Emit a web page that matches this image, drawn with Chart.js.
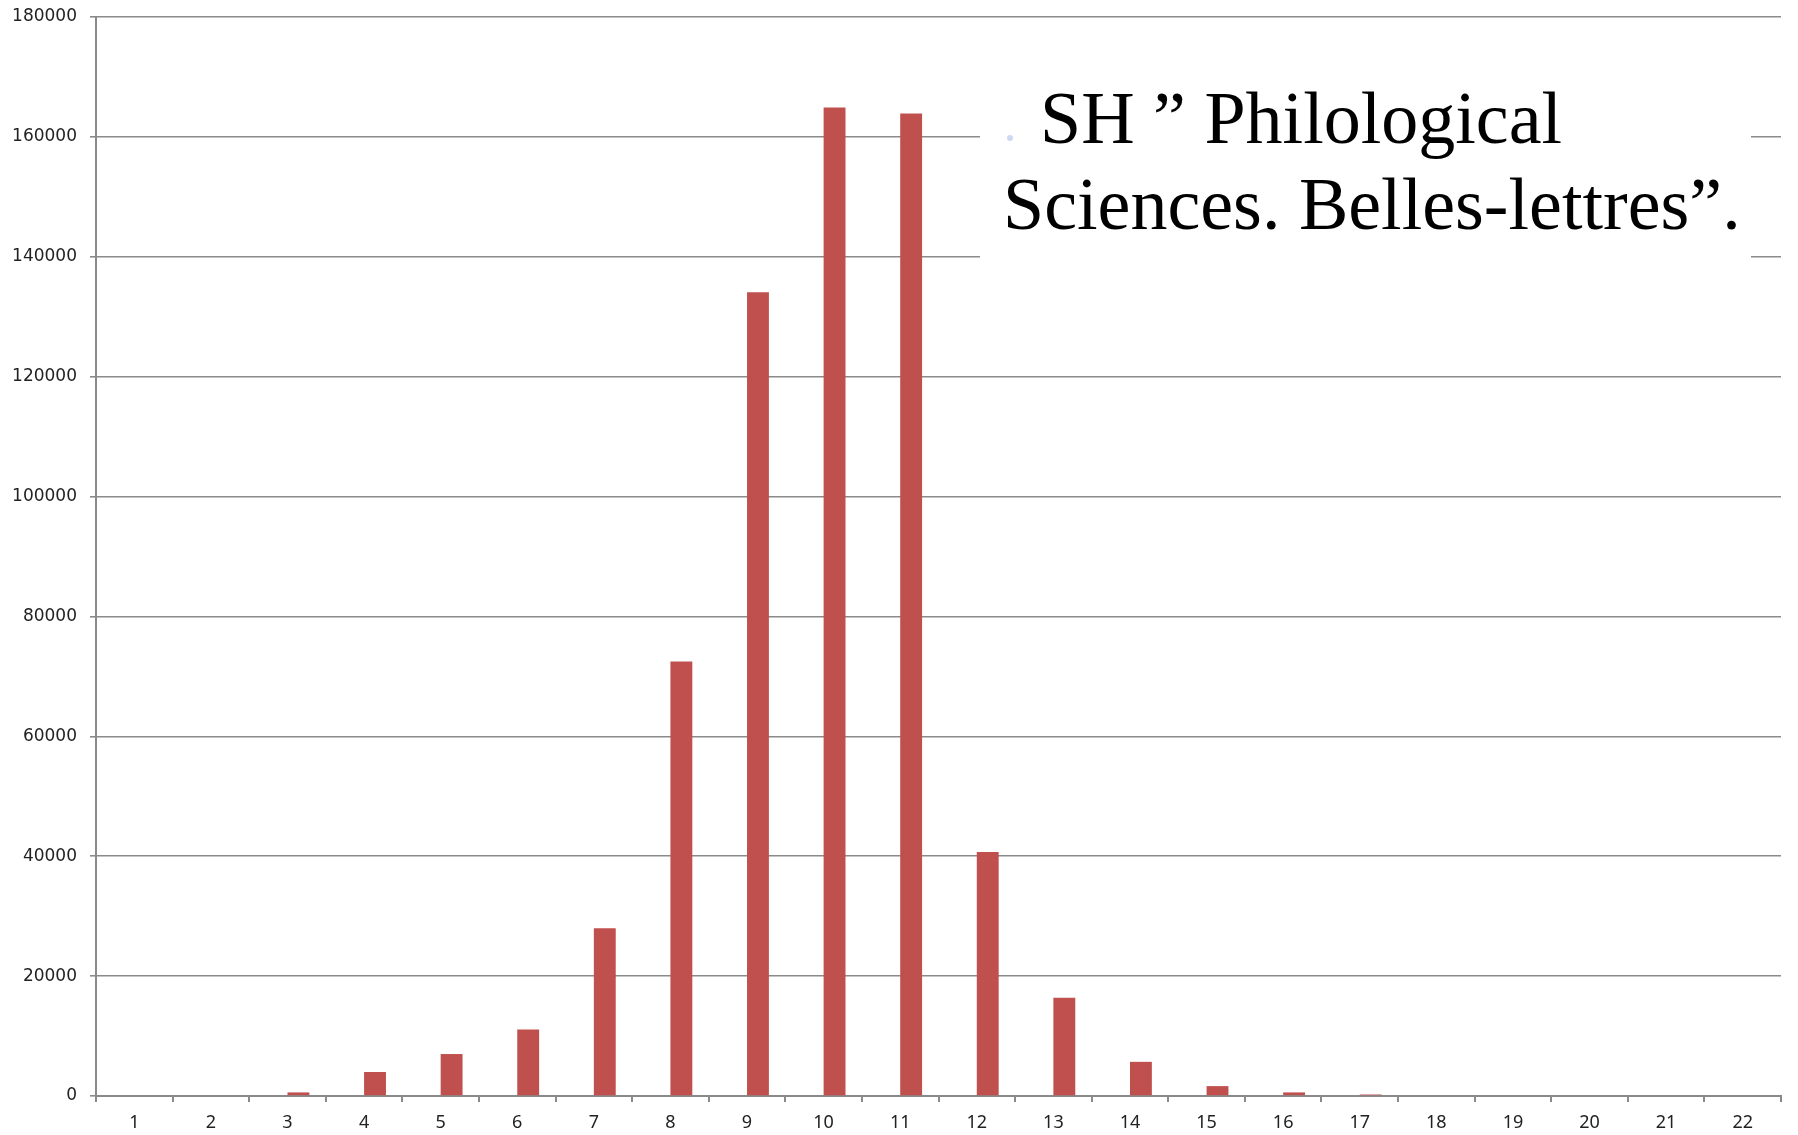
<!DOCTYPE html>
<html>
<head>
<meta charset="utf-8">
<script src="https://cdn.jsdelivr.net/npm/chart.js@4/dist/chart.umd.min.js"></script>
<style>
  html, body { margin: 0; padding: 0; background: #fff; }
  #wrap { position: relative; width: 1798px; height: 1135px; }
  #note {
    position: absolute; left: 980px; top: 75px; width: 771px; height: 190px;
    background: #fff; font-family: "Liberation Serif", "Times New Roman", serif;
    font-size: 74px; line-height: 86px; color: #000; white-space: nowrap;
  }
  #note .l1 { position: absolute; left: 60px; top: 0; }
  #note .l2 { position: absolute; left: 23px; top: 86px; }
  #note .dot {
    position: absolute; left: 27px; top: 60px; width: 6px; height: 6px;
    border-radius: 50%; background: #cdd9f2;
  }
</style>
</head>
<body>
<div id="wrap">
  <canvas id="chart" width="1798" height="1135"></canvas>
  <div id="note">
    <span class="dot"></span>
    <span class="l1">SH ” Philological</span>
    <span class="l2">Sciences. Belles-lettres”.</span>
  </div>
</div>
<script>
const categories = ["1", "2", "3", "4", "5", "6", "7", "8", "9", "10", "11",
  "12", "13", "14", "15", "16", "17", "18", "19", "20", "21", "22"];
const counts = [0, 0, 600, 4000, 7000, 11100, 28000, 72500, 134100, 164900, 163900,
  40700, 16400, 5700, 1650, 600, 250, 0, 0, 0, 0, 0];
// the sheet had a second, empty series: it keeps its slot on the left of each category
const emptySeries = [];
const yMax = 180000;
const yStep = 20000;

const gridColor = "#8a8a8a";

function createFrequencyChart(canvasId) {
  const ctx = document.getElementById(canvasId).getContext("2d");

  new Chart(ctx, {
    type: "bar",
    data: {
      labels: categories,
      datasets: [
        {
          label: "",
          data: emptySeries,
          backgroundColor: "transparent",
        },
        {
          label: "count",
          data: counts,
          backgroundColor: "#c0504d",
          borderWidth: 0,
        },
      ],
    },
    options: {
      responsive: false,
      animation: false,
      categoryPercentage: 2 / 3.5,
      barPercentage: 1,
      layout: {
        padding: { left: 0, right: 17, top: 17, bottom: 0 },
      },
      plugins: {
        legend: { display: false },
        tooltip: { enabled: false },
      },
      scales: {
        x: {
          grid: {
            drawOnChartArea: false,
            drawTicks: true,
            tickLength: 6,
            color: gridColor,
            lineWidth: 2,
          },
          border: { color: gridColor, width: 2 },
          ticks: {
            color: "#222",
            padding: 10,
            maxRotation: 0,
            font: { family: "Noto Sans", size: 18 },
          },
          afterFit: (scale) => {
            scale.height = 39;
            scale.paddingLeft = 0;
            scale.paddingRight = 0;
          },
        },
        y: {
          min: 0,
          max: yMax,
          grid: {
            color: gridColor,
            lineWidth: 1.6,
            tickLength: 6,
          },
          border: { color: gridColor, width: 2 },
          ticks: {
            stepSize: yStep,
            color: "#222",
            padding: 13,
            font: { family: "DejaVu Sans", size: 17 },
            callback: (v) => String(v),
          },
          afterFit: (scale) => {
            scale.width = 96;
            scale.paddingTop = 0;
            scale.paddingBottom = 0;
          },
        },
      },
    },
  });
}

createFrequencyChart("chart");
</script>
</body>
</html>
